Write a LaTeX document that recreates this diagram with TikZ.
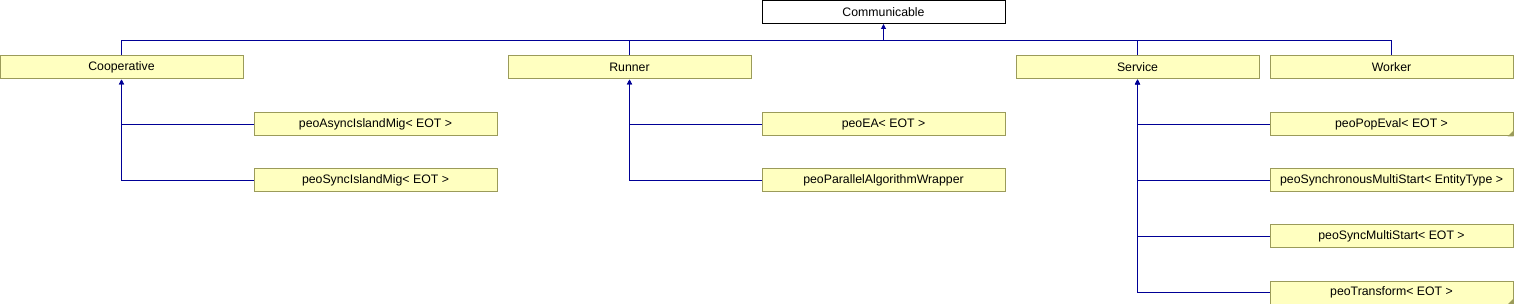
\documentclass[tikz,border=0pt]{standalone}
\usepackage{fontspec}
\setmainfont{Liberation Sans}
\usetikzlibrary{arrows.meta,positioning,calc}
\definecolor{edgeblue}{RGB}{0,0,150}
\definecolor{classfill}{RGB}{255,255,192}
\definecolor{classdraw}{RGB}{155,155,90}
\tikzset{
  arrow/.style={-{Triangle[length=5pt,width=5pt]}, line width=1pt, draw=edgeblue},
  line/.style={line width=1pt, draw=edgeblue},
  classbox/.style={draw=classdraw, line width=1pt, fill=classfill, inner sep=0pt, minimum width=243pt, minimum height=23pt, font=\fontsize{12.3}{14}\selectfont},
  rootbox/.style={classbox, draw=black, fill=white},
  fold/.style={fill=classdraw}
}
\begin{document}
\begin{tikzpicture}[x=1pt,y=-1pt]
  \useasboundingbox (0,0) rectangle (1514,304);
  % Base class and first level.
  \node[rootbox] (comm) at (883.5,12) {Communicable};
  \node[classbox] (coop) at (121.5,67.5) {Cooperative};
  \node[classbox] (runner) at (629.5,67.5) {Runner};
  \node[classbox] (service) at (1137.5,67.5) {Service};
  \node[classbox] (worker) at (1391.5,67.5) {Worker};
  \coordinate (bus) at (883.5,40.5);
  \draw[line] (coop.north) |- (bus) -| (worker.north);
  \draw[line] (runner.north) |- (bus);
  \draw[line] (service.north) |- (bus);
  \draw[arrow] (bus) -- (comm.south);

  % Children of Cooperative.
  \node[classbox] (asyncmig) at (375.5,124.5) {peoAsyncIslandMig< EOT >};
  \node[classbox] (syncmig) at (375.5,180.5) {peoSyncIslandMig< EOT >};
  \draw[arrow] (syncmig.west) -| (coop.south);
  \draw[arrow] (asyncmig.west) -| (coop.south);

  % Children of Runner.
  \node[classbox] (ea) at (883.5,124.5) {peoEA< EOT >};
  \node[classbox] (wrapper) at (883.5,180.5) {peoParallelAlgorithmWrapper};
  \draw[arrow] (wrapper.west) -| (runner.south);
  \draw[arrow] (ea.west) -| (runner.south);

  % Children of Service.
  \node[classbox] (popeval) at (1391.5,124.5) {peoPopEval< EOT >};
  \node[classbox] (synchms) at (1391.5,180.5) {peoSynchronousMultiStart< EntityType >};
  \node[classbox] (syncms) at (1391.5,236.5) {peoSyncMultiStart< EOT >};
  \node[classbox] (transform) at (1391.5,292.5) {peoTransform< EOT >};
  \draw[arrow] (transform.west) -| (service.south);
  \draw[arrow] (syncms.west) -| (service.south);
  \draw[arrow] (synchms.west) -| (service.south);
  \draw[arrow] (popeval.west) -| (service.south);
  \fill[fold] (popeval.south east) -- ++(-6,0) -- ++(6,-6) -- cycle;
  \fill[fold] (transform.south east) -- ++(-6,0) -- ++(6,-6) -- cycle;
\end{tikzpicture}
\end{document}
